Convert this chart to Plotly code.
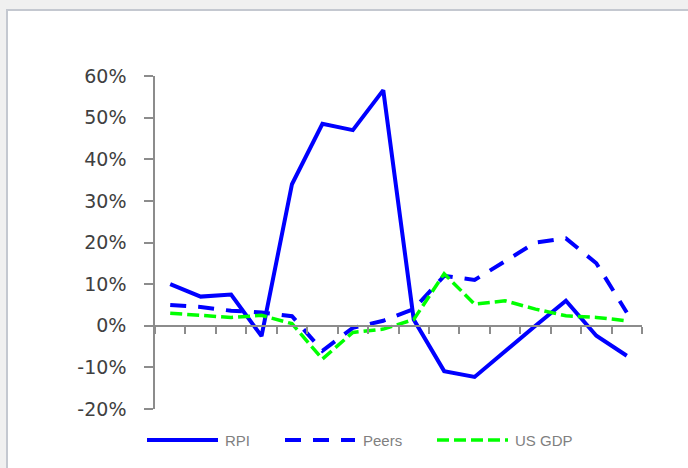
import plotly.graph_objects as go

categories = [str(i) for i in range(1, 17)]
rpi = [10.0, 7.0, 7.5, -2.5, 34.0, 48.5, 47.0, 56.6, 1.5, -10.9, -12.3, -6.0, 0.0, 6.0, -2.4, -7.2]
peers = [5.0, 4.5, 3.6, 3.2, 2.3, -6.0, -0.5, 1.2, 4.0, 12.0, 11.0, 15.5, 20.0, 21.0, 15.0, 3.2]
us_gdp = [3.0, 2.5, 2.0, 2.5, 0.5, -8.0, -1.6, -0.8, 1.5, 12.5, 5.2, 6.0, 4.0, 2.4, 2.0, 1.2]
y_ticks = [-20, -10, 0, 10, 20, 30, 40, 50, 60]

W, H = 688, 468
L, R, T, B = 155, 46, 76, 59
pw, ph = W - L - R, H - T - B

def px(x):
    return (x - L) / pw

def py(y):
    return (H - B - y) / ph

BLUE = "#0000ff"
GREEN = "#00ff00"

fig = go.Figure()
fig.add_trace(go.Scatter(x=categories, y=[v / 100 for v in rpi], mode="lines", name="RPI",
                         line=dict(color=BLUE, width=4), showlegend=False))
fig.add_trace(go.Scatter(x=categories, y=[v / 100 for v in peers], mode="lines", name="Peers",
                         line=dict(color=BLUE, width=4, dash="16px,12px"), showlegend=False))
fig.add_trace(go.Scatter(x=categories, y=[v / 100 for v in us_gdp], mode="lines", name="US GDP",
                         line=dict(color=GREEN, width=3.5, dash="12px,5px"), showlegend=False))

shapes = []
# card background with border on top/left
shapes.append(dict(type="rect", xref="paper", yref="paper", layer="below",
                   x0=px(7), x1=px(700), y0=py(10), y1=py(480),
                   fillcolor="white", line=dict(color="#c4c8d0", width=2)))

# manual legend
legend_y = 440
items = [
    ("RPI", BLUE, 4, "solid", 147, 218, 223),
    ("Peers", BLUE, 4, "16px,12px", 285, 355, 361),
    ("US GDP", GREEN, 3.5, "12px,5px", 437, 508, 513),
]
annotations = []
for name, color, width, dash, x0, x1, tx in items:
    shapes.append(dict(type="line", xref="paper", yref="paper",
                       x0=px(x0), x1=px(x1), y0=py(legend_y), y1=py(legend_y),
                       line=dict(color=color, width=width, dash=dash)))
    annotations.append(dict(text=name, xref="paper", yref="paper", x=px(tx), y=py(legend_y),
                            xanchor="left", yanchor="middle", showarrow=False,
                            font=dict(family="Liberation Sans, Arial, sans-serif", size=15, color="#7f7f7f")))

fig.update_layout(
    width=W, height=H,
    margin=dict(l=L, r=R, t=T, b=B),
    paper_bgcolor="#f0f0f0",
    plot_bgcolor="white",
    shapes=shapes,
    annotations=annotations,
    showlegend=False,
    xaxis=dict(
        type="category",
        range=[-0.5, 15.5],
        anchor="free",
        position=0.25,
        showline=True, linecolor="#8c8c8c", linewidth=1.5,
        ticks="outside", tickson="boundaries", ticklen=7, tickcolor="#8c8c8c", tickwidth=1.5,
        showticklabels=False,
        showgrid=False, zeroline=False,
    ),
    yaxis=dict(
        range=[-0.2, 0.6],
        tickvals=[v / 100 for v in y_ticks],
        ticktext=[f"{v}%" for v in y_ticks],
        showline=True, linecolor="#8c8c8c", linewidth=1.5,
        ticks="outside", ticklen=9, tickcolor="#8c8c8c", tickwidth=1.5,
        ticklabelstandoff=14,
        tickfont=dict(family="DejaVu Sans", size=19, color="#404040"),
        showgrid=False, zeroline=False,
    ),
)

fig.write_html("out.html")
